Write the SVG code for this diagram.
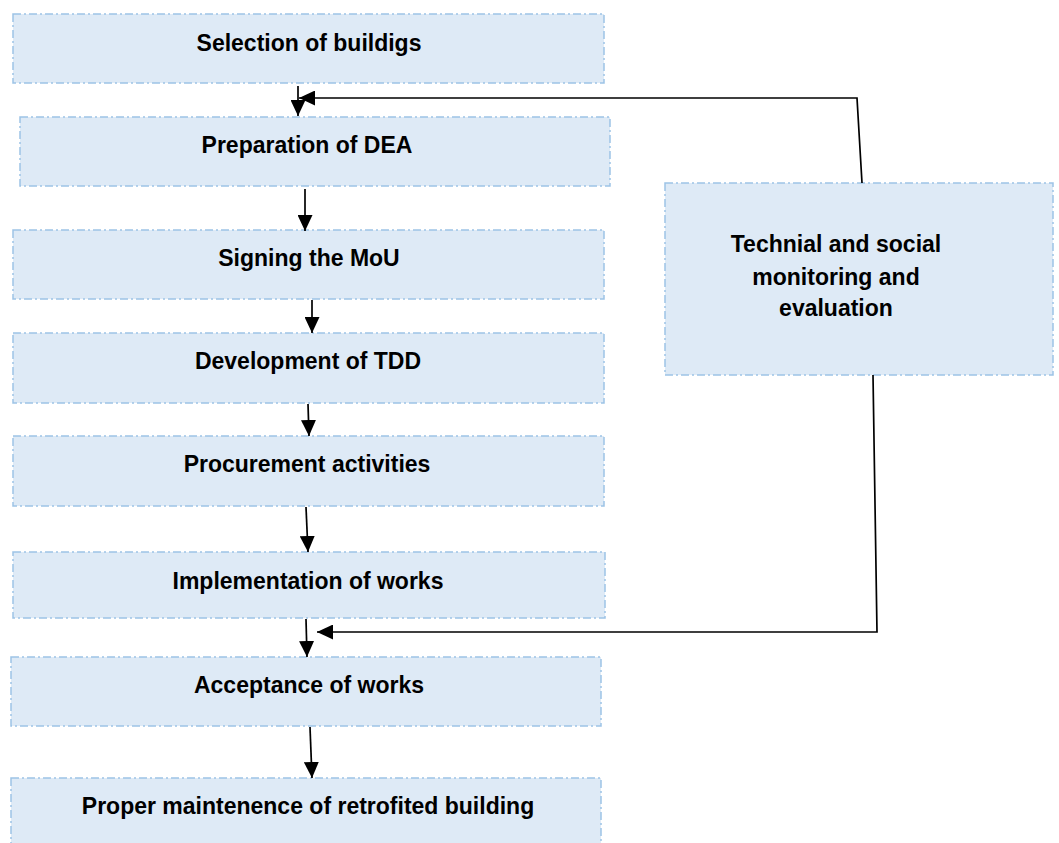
<svg xmlns="http://www.w3.org/2000/svg" width="1059" height="843" viewBox="0 0 1059 843">
<defs>
<marker id="ah" viewBox="0 0 16 15" refX="16" refY="7.5" markerWidth="16" markerHeight="15" markerUnits="userSpaceOnUse" orient="auto">
<path d="M0,0 L16,7.5 L0,15 Z" fill="#000"/>
</marker>
<style>
.box{fill:#DEEAF6;stroke:#9DC3E6;stroke-width:1.5;stroke-dasharray:8 3 2 3;}
.t{font-family:"Liberation Sans",Arial,sans-serif;font-weight:bold;font-size:23px;fill:#000;text-anchor:middle;}
.c{stroke:#000;stroke-width:1.7;fill:none;}
</style>
</defs>
<rect width="1059" height="843" fill="#fff"/>
<g id="n1"><rect class="box" x="13" y="14" width="591" height="69"/><text class="t" x="309" y="51">Selection of buildigs</text></g>
<g id="n2"><rect class="box" x="20" y="117" width="590" height="69"/><text class="t" x="307" y="153">Preparation of DEA</text></g>
<g id="n3"><rect class="box" x="13" y="230" width="591" height="69"/><text class="t" x="309" y="266">Signing the MoU</text></g>
<g id="n4"><rect class="box" x="13" y="333" width="591" height="70"/><text class="t" x="308" y="369">Development of TDD</text></g>
<g id="n5"><rect class="box" x="13" y="436" width="591" height="70"/><text class="t" x="307" y="472">Procurement activities</text></g>
<g id="n6"><rect class="box" x="13" y="552" width="592" height="66"/><text class="t" x="308" y="589">Implementation of works</text></g>
<g id="n7"><rect class="box" x="11" y="657" width="590" height="69"/><text class="t" x="309" y="693">Acceptance of works</text></g>
<g id="n8"><rect class="box" x="11" y="778" width="590" height="70"/><text class="t" x="308" y="814">Proper maintenence of retrofited building</text></g>
<g id="n9"><rect class="box" x="665" y="183" width="388" height="192"/>
<text class="t" x="836" y="252">Technial and social</text>
<text class="t" x="836" y="285">monitoring and</text>
<text class="t" x="836" y="316">evaluation</text></g>
<g id="connectors">
<line class="c" x1="298" y1="86" x2="298" y2="116" marker-end="url(#ah)"/>
<polyline class="c" points="862,183 857,98 299,98" marker-end="url(#ah)"/>
<line class="c" x1="305" y1="189" x2="305" y2="231" marker-end="url(#ah)"/>
<line class="c" x1="312" y1="300" x2="312" y2="333" marker-end="url(#ah)"/>
<line class="c" x1="308" y1="404" x2="309" y2="436" marker-end="url(#ah)"/>
<line class="c" x1="306" y1="507" x2="308" y2="552" marker-end="url(#ah)"/>
<line class="c" x1="306" y1="619" x2="307" y2="657" marker-end="url(#ah)"/>
<line class="c" x1="310" y1="727" x2="312" y2="778" marker-end="url(#ah)"/>
<polyline class="c" points="873,375 877,632 317,632" marker-end="url(#ah)"/>
</g>
</svg>
